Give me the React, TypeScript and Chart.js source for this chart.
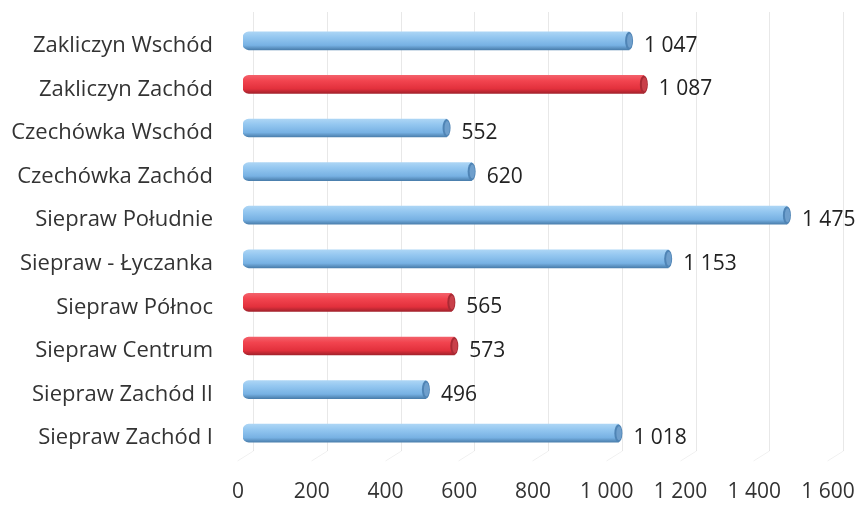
import { useEffect, useRef } from 'react';
import { Chart, registerables } from 'chart.js';

Chart.register(...registerables);

const categories = [
  'Zakliczyn Wschód',
  'Zakliczyn Zachód',
  'Czechówka Wschód',
  'Czechówka Zachód',
  'Siepraw Południe',
  'Siepraw - Łyczanka',
  'Siepraw Północ',
  'Siepraw Centrum',
  'Siepraw Zachód II',
  'Siepraw Zachód I',
];
const values = [1047, 1087, 552, 620, 1475, 1153, 565, 573, 496, 1018];
const redCategories = ['Zakliczyn Zachód', 'Siepraw Północ', 'Siepraw Centrum'];
const xTickValues = [0, 200, 400, 600, 800, 1000, 1200, 1400, 1600];

const FONT = "'Open Sans', 'Noto Sans', sans-serif";
const TEXT = '#333333';

const fmt = (v: number) => String(v).replace(/\B(?=(\d{3})+(?!\d))/g, ' ');
const isRed = (i: number) => redCategories.includes(categories[i]);

const gridPlugin = {
  id: 'slantGrid',
  beforeDatasetsDraw(chart: any) {
    const { ctx, chartArea } = chart;
    const x = chart.scales.x;
    ctx.save();
    ctx.lineWidth = 1;
    x.ticks.forEach((t: any) => {
      const px = Math.round(x.getPixelForValue(t.value)) + 10 + 0.5;
      ctx.strokeStyle = 'rgba(0,0,0,0.09)';
      ctx.beginPath();
      ctx.moveTo(px, chartArea.top - 7);
      ctx.lineTo(px, chartArea.bottom - 4);
      ctx.stroke();
      ctx.strokeStyle = 'rgba(0,0,0,0.06)';
      ctx.beginPath();
      ctx.moveTo(px, chartArea.bottom - 4);
      ctx.lineTo(px - 16, chartArea.bottom + 6);
      ctx.stroke();
    });
    ctx.restore();
  },
};

const capPlugin = {
  id: 'capsAndLabels',
  afterDatasetsDraw(chart: any) {
    const { ctx } = chart;
    const meta = chart.getDatasetMeta(0);
    ctx.save();
    meta.data.forEach((el: any, i: number) => {
      const { x, y, height } = el.getProps(['x', 'y', 'height'], true);
      const ry = height / 2;
      const red = isRed(i);
      ctx.fillStyle = red ? '#a92a34' : '#4f84b5';
      ctx.beginPath();
      ctx.ellipse(x, y, 4, ry, 0, 0, Math.PI * 2);
      ctx.fill();
      ctx.fillStyle = red ? '#c9404a' : '#6f9fcc';
      ctx.beginPath();
      ctx.ellipse(x + 0.6, y, 2.6, ry - 2, 0, 0, Math.PI * 2);
      ctx.fill();

      ctx.fillStyle = '#222222';
      ctx.font = `21px ${FONT}`;
      ctx.textAlign = 'left';
      ctx.textBaseline = 'middle';
      ctx.fillText(fmt(values[i]), x + 15, y + 5);
    });
    ctx.restore();
  },
};

export default function App() {
  const ref = useRef<HTMLCanvasElement | null>(null);

  useEffect(() => {
    if (!ref.current) return;
    const makeGradient = (c: any) => {
      const chart = c.chart;
      const yScale = chart.scales.y;
      const red = isRed(c.dataIndex);
      const flat = red ? '#ee3642' : '#8cc1ee';
      if (!yScale || !chart.chartArea) return flat;
      const yc = yScale.getPixelForValue(c.dataIndex);
      const g = chart.ctx.createLinearGradient(0, yc - 9, 0, yc + 9);
      if (red) {
        g.addColorStop(0, '#f3606a');
        g.addColorStop(0.3, '#f2444f');
        g.addColorStop(0.75, '#e2303c');
        g.addColorStop(1, '#a3222c');
      } else {
        g.addColorStop(0, '#acd5f5');
        g.addColorStop(0.3, '#94c7f0');
        g.addColorStop(0.75, '#77b1e3');
        g.addColorStop(1, '#4b7fad');
      }
      return g;
    };

    const chart = new Chart(ref.current, {
      type: 'bar',
      data: {
        labels: categories,
        datasets: [
          {
            data: values,
            backgroundColor: makeGradient,
            borderWidth: 0,
            borderSkipped: false,
            borderRadius: { topLeft: 6, bottomLeft: 6, topRight: 0, bottomRight: 0 },
            barThickness: 18,
          },
        ],
      },
      options: {
        indexAxis: 'y',
        animation: false,
        responsive: false,
        events: [],
        layout: { padding: { top: 19, right: 27, left: 0, bottom: 0 } },
        plugins: {
          legend: { display: false },
          tooltip: { enabled: false },
          title: { display: false },
        },
        scales: {
          x: {
            type: 'linear',
            min: 0,
            max: 1600,
            afterBuildTicks: (s: any) => {
              s.ticks = xTickValues.map((v) => ({ value: v }));
            },
            afterFit: (s: any) => {
              s.height = 54;
              s.paddingLeft = 0;
              s.paddingRight = 0;
              s.paddingTop = 0;
              s.paddingBottom = 0;
            },
            grid: { display: false, drawTicks: false },
            border: { display: false },
            ticks: {
              padding: 24,
              labelOffset: -5,
              color: TEXT,
              font: { family: FONT, size: 21 },
              callback: (v: any) => fmt(Number(v)),
            },
          },
          y: {
            afterFit: (s: any) => {
              s.width = 243;
              s.paddingLeft = 0;
              s.paddingRight = 0;
              s.paddingTop = 0;
              s.paddingBottom = 0;
            },
            grid: { display: false, drawTicks: false },
            border: { display: false },
            ticks: {
              padding: 30,
              labelOffset: 5,
              color: TEXT,
              font: { family: FONT, size: 22 },
            },
          },
        },
      },
      plugins: [gridPlugin, capPlugin],
    });
    return () => chart.destroy();
  }, []);

  return (
    <div style={{ position: 'fixed', left: 0, top: 0, width: 860, height: 509, background: '#fff' }}>
      <canvas ref={ref} width={860} height={509} />
    </div>
  );
}
